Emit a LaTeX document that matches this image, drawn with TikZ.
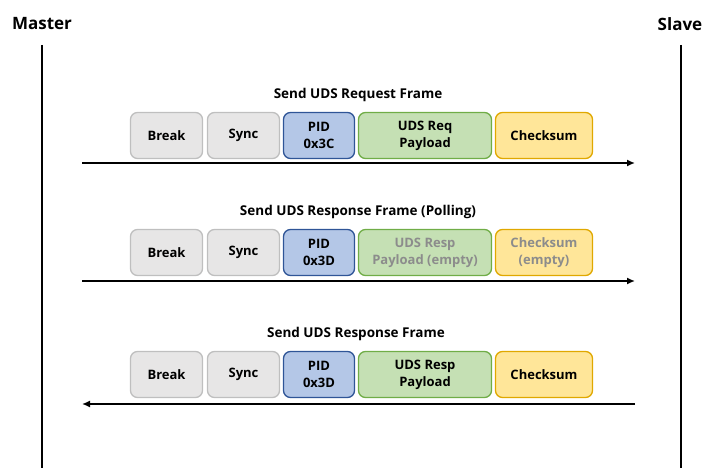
\documentclass[tikz,border=0pt]{standalone}
\usepackage{fontspec}
\setmainfont{Open Sans}
\usetikzlibrary{arrows.meta}
\definecolor{grayF}{HTML}{E7E6E6}
\definecolor{grayD}{HTML}{BFBFBF}
\definecolor{blueF}{HTML}{B4C7E7}
\definecolor{blueD}{HTML}{2F5597}
\definecolor{greenF}{HTML}{C5E0B4}
\definecolor{greenD}{HTML}{70AD47}
\definecolor{yelF}{HTML}{FFE699}
\definecolor{yelD}{HTML}{E0A800}
\definecolor{emptyT}{HTML}{8C8C8C}
\tikzset{
  fbox/.style={draw, line width=1.3pt, rounded corners=7pt, minimum height=46pt, inner sep=0pt, align=center, font=\fontsize{13}{17}\selectfont\bfseries},
  gbox/.style={fbox, fill=grayF, draw=grayD, minimum width=72pt},
  bbox/.style={fbox, fill=blueF, draw=blueD, minimum width=71pt},
  grbox/.style={fbox, fill=greenF, draw=greenD, minimum width=133pt},
  ybox/.style={fbox, fill=yelF, draw=yelD, minimum width=97pt},
  ttl/.style={font=\fontsize{13.5}{16}\selectfont\bfseries},
  lifeline/.style={line width=1.8pt},
  msg/.style={line width=1.5pt, -{Latex[length=8pt,width=7pt]}},
}
\begin{document}
\begin{tikzpicture}[x=1pt,y=-1pt]
\useasboundingbox (0,0) rectangle (703,468);
\node[font=\fontsize{17}{20}\selectfont\bfseries] (master) at (42,24) {Master};
\node[font=\fontsize{17}{20}\selectfont\bfseries] (slave) at (680,24) {Slave};
\coordinate (mtop) at (42,45); \coordinate (mbot) at (42,468);
\coordinate (stop) at (681,45); \coordinate (sbot) at (681,468);
\draw[lifeline] (mtop) -- (mbot);
\draw[lifeline] (stop) -- (sbot);
% row 1
\node[ttl] (t1) at (358,95) {Send UDS Request Frame};
\node[gbox] (b1) at (166.5,135.5) {Break};
\node[gbox] (s1) at (243.5,135.5) {Sync};
\node[bbox] (p1) at (319,135.5) {PID\\0x3C};
\node[grbox] (u1) at (425,135.5) {UDS Req\\Payload};
\node[ybox] (c1) at (544,135.5) {Checksum};
\coordinate (a1s) at (82,163); \coordinate (a1e) at (635,163);
\draw[msg] (a1s) -- (a1e);
% row 2
\node[ttl] (t2) at (358,212) {Send UDS Response Frame (Polling)};
\node[gbox] (b2) at (166.5,252.5) {Break};
\node[gbox] (s2) at (243.5,252.5) {Sync};
\node[bbox] (p2) at (319,252.5) {PID\\0x3D};
\node[grbox, text=emptyT] (u2) at (425,252.5) {UDS Resp\\Payload (empty)};
\node[ybox, text=emptyT] (c2) at (544,252.5) {Checksum\\(empty)};
\coordinate (a2s) at (82,281); \coordinate (a2e) at (635,281);
\draw[msg] (a2s) -- (a2e);
% row 3
\node[ttl] (t3) at (356,334) {Send UDS Response Frame};
\node[gbox] (b3) at (166.5,374.5) {Break};
\node[gbox] (s3) at (243.5,374.5) {Sync};
\node[bbox] (p3) at (319,374.5) {PID\\0x3D};
\node[grbox] (u3) at (425,374.5) {UDS Resp\\Payload};
\node[ybox] (c3) at (544,374.5) {Checksum};
\coordinate (a3s) at (635,404); \coordinate (a3e) at (82,404);
\draw[msg] (a3s) -- (a3e);
\end{tikzpicture}
\end{document}
